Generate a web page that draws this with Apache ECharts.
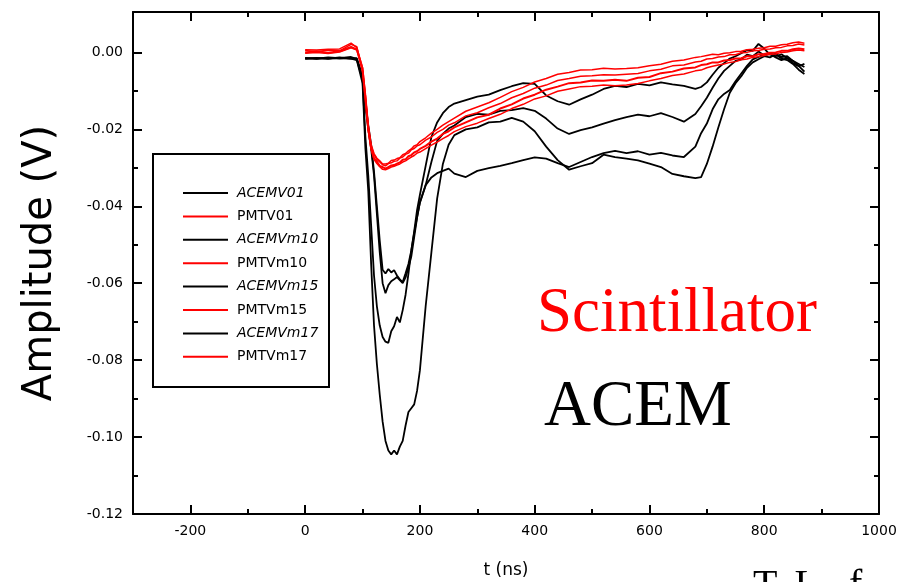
<!DOCTYPE html>
<html><head><meta charset="utf-8">
<script src="https://cdn.jsdelivr.net/npm/echarts@6/dist/echarts.min.js"></script>
<style>html,body{margin:0;padding:0;background:#fff}#c{width:900px;height:582px}</style>
</head><body><div id="c"></div>
<script>
const timeNs = [0,20,40,60,80,90,
  100,105,110,115,120,125,130,135,140,145,150,155,160,165,170,175,180,185,190,195,200,
  210,220,230,240,250,260,
  280,300,320,340,360,380,400,420,440,460,480,500,520,540,560,580,600,620,640,660,680,
  690,700,710,720,730,740,750,760,770,780,790,800,810,820,830,840,850,860,870];

const acemV01 = [-0.0014,-0.0016,-0.0013,-0.0015,-0.0012,-0.0017,
  -0.0060,-0.0130,-0.0190,-0.0240,-0.0310,-0.0400,-0.0490,-0.0565,-0.0575,-0.0563,-0.0572,-0.0566,-0.0580,-0.0590,-0.0597,-0.0574,-0.0550,-0.0515,-0.0465,-0.0410,-0.0370,
  -0.0295,-0.0220,-0.0182,-0.0158,-0.0142,-0.0133,
  -0.0124,-0.0115,-0.0110,-0.0098,-0.0088,-0.0080,-0.0082,-0.0112,-0.0127,-0.0136,-0.0122,-0.0110,-0.0095,-0.0087,-0.0090,-0.0082,-0.0086,-0.0078,-0.0083,-0.0087,-0.0095,
  -0.0090,-0.0078,-0.0058,-0.0040,-0.0028,-0.0016,-0.0010,-0.0002,0.0006,0.0004,0.0022,0.0010,-0.0006,-0.0004,-0.0012,-0.0010,-0.0022,-0.0035,-0.0050];

const acemVm10 = [-0.0016,-0.0014,-0.0017,-0.0014,-0.0016,-0.0015,
  -0.0065,-0.0140,-0.0200,-0.0250,-0.0320,-0.0420,-0.0520,-0.0600,-0.0626,-0.0605,-0.0595,-0.0590,-0.0584,-0.0592,-0.0600,-0.0585,-0.0560,-0.0530,-0.0480,-0.0430,-0.0390,
  -0.0345,-0.0285,-0.0230,-0.0212,-0.0198,-0.0190,
  -0.0168,-0.0160,-0.0162,-0.0152,-0.0150,-0.0145,-0.0152,-0.0172,-0.0198,-0.0212,-0.0202,-0.0195,-0.0185,-0.0176,-0.0168,-0.0162,-0.0166,-0.0158,-0.0168,-0.0180,-0.0160,
  -0.0140,-0.0118,-0.0092,-0.0068,-0.0048,-0.0035,-0.0022,-0.0018,-0.0006,-0.0010,0.0002,-0.0008,-0.0004,-0.0013,-0.0020,-0.0015,-0.0028,-0.0036,-0.0030];

const acemVm15 = [-0.0015,-0.0017,-0.0014,-0.0016,-0.0015,-0.0019,
  -0.0070,-0.0220,-0.0320,-0.0450,-0.0580,-0.0660,-0.0710,-0.0740,-0.0752,-0.0755,-0.0725,-0.0712,-0.0688,-0.0702,-0.0670,-0.0630,-0.0575,-0.0515,-0.0470,-0.0428,-0.0390,
  -0.0345,-0.0325,-0.0314,-0.0308,-0.0302,-0.0315,
  -0.0324,-0.0308,-0.0301,-0.0295,-0.0288,-0.0280,-0.0273,-0.0276,-0.0288,-0.0298,-0.0285,-0.0272,-0.0262,-0.0256,-0.0262,-0.0257,-0.0266,-0.0261,-0.0268,-0.0272,-0.0245,
  -0.0210,-0.0185,-0.0148,-0.0122,-0.0108,-0.0098,-0.0075,-0.0055,-0.0035,-0.0018,-0.0012,-0.0005,-0.0002,-0.0010,-0.0005,-0.0015,-0.0022,-0.0030,-0.0038];

const acemVm17 = [-0.0017,-0.0015,-0.0016,-0.0013,-0.0016,-0.0020,
  -0.0080,-0.0250,-0.0360,-0.0550,-0.0710,-0.0810,-0.0890,-0.0960,-0.1010,-0.1035,-0.1045,-0.1035,-0.1045,-0.1025,-0.1010,-0.0970,-0.0935,-0.0925,-0.0915,-0.0880,-0.0826,
  -0.0660,-0.0520,-0.0380,-0.0290,-0.0240,-0.0215,
  -0.0200,-0.0195,-0.0182,-0.0180,-0.0170,-0.0180,-0.0205,-0.0245,-0.0280,-0.0305,-0.0296,-0.0288,-0.0266,-0.0272,-0.0276,-0.0281,-0.0289,-0.0298,-0.0316,-0.0322,-0.0327,
  -0.0324,-0.0290,-0.0245,-0.0195,-0.0148,-0.0105,-0.0080,-0.0062,-0.0040,-0.0026,-0.0018,-0.0010,-0.0013,-0.0005,-0.0016,-0.0020,-0.0030,-0.0045,-0.0056];

const pmtV01 = [0.0007,0.0006,0.0008,0.0009,0.0024,0.0012,
  -0.0040,-0.0108,-0.0188,-0.0240,-0.0263,-0.0275,-0.0282,-0.0290,-0.0290,-0.0288,-0.0281,-0.0280,-0.0276,-0.0274,-0.0266,-0.0263,-0.0256,-0.0251,-0.0243,-0.0240,-0.0232,
  -0.0222,-0.0210,-0.0200,-0.0189,-0.0180,-0.0171,
  -0.0153,-0.0142,-0.0131,-0.0117,-0.0102,-0.0091,-0.0077,-0.0068,-0.0057,-0.0052,-0.0046,-0.0045,-0.0041,-0.0043,-0.0042,-0.0040,-0.0035,-0.0031,-0.0023,-0.0020,-0.0013,
  -0.0011,-0.0008,-0.0005,-0.0006,-0.0002,-0.0001,0.0002,0.0003,0.0007,0.0008,0.0011,0.0012,0.0016,0.0016,0.0020,0.0021,0.0025,0.0027,0.0024];

const pmtVm10 = [0.0005,0.0002,0.0006,0.0004,0.0021,0.0015,
  -0.0050,-0.0112,-0.0198,-0.0243,-0.0266,-0.0278,-0.0285,-0.0292,-0.0295,-0.0289,-0.0287,-0.0283,-0.0282,-0.0275,-0.0272,-0.0265,-0.0262,-0.0253,-0.0250,-0.0243,-0.0240,
  -0.0228,-0.0220,-0.0208,-0.0200,-0.0189,-0.0183,
  -0.0165,-0.0157,-0.0144,-0.0133,-0.0118,-0.0107,-0.0093,-0.0085,-0.0073,-0.0068,-0.0062,-0.0061,-0.0058,-0.0059,-0.0057,-0.0055,-0.0048,-0.0044,-0.0035,-0.0033,-0.0025,
  -0.0023,-0.0017,-0.0016,-0.0012,-0.0011,-0.0006,-0.0006,-0.0001,0.0000,0.0004,0.0005,0.0008,0.0009,0.0012,0.0013,0.0017,0.0018,0.0022,0.0019];

const pmtVm15 = [0.0000,0.0003,-0.0001,0.0003,0.0014,0.0008,
  -0.0042,-0.0120,-0.0200,-0.0250,-0.0275,-0.0284,-0.0295,-0.0298,-0.0302,-0.0298,-0.0294,-0.0293,-0.0289,-0.0286,-0.0279,-0.0278,-0.0270,-0.0267,-0.0260,-0.0257,-0.0251,
  -0.0243,-0.0232,-0.0224,-0.0212,-0.0205,-0.0195,
  -0.0182,-0.0169,-0.0162,-0.0146,-0.0135,-0.0120,-0.0110,-0.0097,-0.0089,-0.0080,-0.0078,-0.0073,-0.0074,-0.0071,-0.0074,-0.0066,-0.0064,-0.0054,-0.0050,-0.0042,-0.0039,
  -0.0033,-0.0031,-0.0026,-0.0026,-0.0021,-0.0020,-0.0016,-0.0015,-0.0010,-0.0010,-0.0005,-0.0004,-0.0001,0.0000,0.0004,0.0004,0.0008,0.0010,0.0008];

const pmtVm17 = [-0.0002,0.0000,-0.0003,0.0001,0.0012,0.0006,
  -0.0048,-0.0122,-0.0203,-0.0252,-0.0278,-0.0289,-0.0297,-0.0304,-0.0305,-0.0302,-0.0298,-0.0296,-0.0293,-0.0290,-0.0285,-0.0282,-0.0277,-0.0272,-0.0268,-0.0262,-0.0259,
  -0.0250,-0.0241,-0.0233,-0.0224,-0.0216,-0.0206,
  -0.0193,-0.0184,-0.0172,-0.0161,-0.0146,-0.0135,-0.0121,-0.0113,-0.0101,-0.0095,-0.0089,-0.0088,-0.0085,-0.0087,-0.0085,-0.0081,-0.0074,-0.0068,-0.0060,-0.0056,-0.0048,
  -0.0046,-0.0040,-0.0036,-0.0033,-0.0030,-0.0026,-0.0024,-0.0019,-0.0017,-0.0013,-0.0011,-0.0008,-0.0005,-0.0004,0.0000,0.0001,0.0004,0.0006,0.0004];

const seriesNames = ['ACEMV01','PMTV01','ACEMVm10','PMTVm10','ACEMVm15','PMTVm15','ACEMVm17','PMTVm17'];
const seriesValues = [acemV01, pmtV01, acemVm10, pmtVm10, acemVm15, pmtVm15, acemVm17, pmtVm17];

const xMajorTicks = [-200, 0, 200, 400, 600, 800, 1000];
const xMinorTicks = [-100, 100, 300, 500, 700, 900];
const yMajorTicks = [-0.12, -0.10, -0.08, -0.06, -0.04, -0.02, 0.00];
const yMinorTicks = [-0.11, -0.09, -0.07, -0.05, -0.03, -0.01];

const xTitle = 't (ns)';
const yTitle = 'Amplitude (V)';

const FONT = 'DejaVu Sans';
const black = '#000000';
const red = '#ff0000';

function xAxisDef(pos, ticks, len, withLine, withLabels) {
  return {
    type: 'value', position: pos, min: -300, max: 1000,
    axisLine: { show: withLine, onZero: false, lineStyle: { color: black, width: 2 } },
    axisTick: { show: true, inside: true, length: len, customValues: ticks, lineStyle: { color: black, width: 2 } },
    axisLabel: withLabels ? { show: true, customValues: ticks, margin: 10, color: black, fontFamily: FONT, fontSize: 14,
      formatter: v => String(v) } : { show: false },
    splitLine: { show: false }
  };
}
function yAxisDef(pos, ticks, len, withLine, withLabels) {
  return {
    type: 'value', position: pos, min: -0.12, max: 0.0105,
    axisLine: { show: withLine, onZero: false, lineStyle: { color: black, width: 2 } },
    axisTick: { show: true, inside: true, length: len, customValues: ticks, lineStyle: { color: black, width: 2 } },
    axisLabel: withLabels ? { show: true, customValues: ticks, margin: 10, color: black, fontFamily: FONT, fontSize: 14,
      formatter: v => Number(v).toFixed(2) } : { show: false },
    splitLine: { show: false }
  };
}

const xAxes = [
  xAxisDef('bottom', xMajorTicks, 9, true, true),
  xAxisDef('bottom', xMinorTicks, 5, false, false),
  xAxisDef('top', xMajorTicks, 9, true, false),
  xAxisDef('top', xMinorTicks, 5, false, false)
];
xAxes[0].name = xTitle;
xAxes[0].nameLocation = 'middle';
xAxes[0].nameGap = 48;
xAxes[0].nameTextStyle = { fontFamily: FONT, fontSize: 17, color: black };

const yAxes = [
  yAxisDef('left', yMajorTicks, 9, true, true),
  yAxisDef('left', yMinorTicks, 5, false, false),
  yAxisDef('right', yMajorTicks, 9, true, false),
  yAxisDef('right', yMinorTicks, 5, false, false)
];
yAxes[0].name = yTitle;
yAxes[0].nameLocation = 'middle';
yAxes[0].nameGap = 72;
yAxes[0].nameTextStyle = { fontFamily: FONT, fontSize: 40, color: black };

const series = seriesNames.map((name, k) => {
  const isPmt = name.startsWith('PMT');
  return {
    name: name, type: 'line', xAxisIndex: 0, yAxisIndex: 0,
    symbol: 'none', showSymbol: false, animation: false,
    z: isPmt ? 4 : 3,
    lineStyle: { color: isPmt ? red : black, width: isPmt ? (name === 'PMTVm15' ? 2 : 1.5) : 1.8 },
    itemStyle: { color: isPmt ? red : black },
    data: timeNs.map((t, i) => [t, seriesValues[k][i]])
  };
});

const chart = echarts.init(document.getElementById('c'), null, { renderer: 'canvas' });
chart.setOption({
  animation: false,
  backgroundColor: '#ffffff',
  grid: { left: 133, right: 21, top: 12, bottom: 68, containLabel: false, outerBoundsMode: 'none' },
  xAxis: xAxes,
  yAxis: yAxes,
  legend: {
    data: seriesNames, orient: 'vertical', left: 177, top: 181,
    itemWidth: 45, itemHeight: 14, itemGap: 9.4, selectedMode: false,
    itemStyle: { opacity: 0 },
    formatter: n => (n.startsWith('ACEM') ? '{i|' : '{n|') + n + '}',
    textStyle: { rich: {
      i: { fontFamily: FONT, fontStyle: 'italic', fontSize: 14, color: black, padding: [0, 0, 0, 4] },
      n: { fontFamily: FONT, fontStyle: 'normal', fontSize: 14, color: black, padding: [0, 0, 0, 4] }
    } }
  },
  graphic: [
    { type: 'rect', shape: { x: 153, y: 154, width: 176, height: 233 }, style: { fill: 'none', stroke: black, lineWidth: 2 }, z: 50 },
    { type: 'text', x: 537, y: 314, style: { text: 'Scintillator', font: '63px "Liberation Serif"', fill: red, align: 'left', verticalAlign: 'middle' }, z: 50 },
    { type: 'text', x: 544, y: 408, style: { text: 'ACEM', font: '65px "Liberation Serif"', fill: black, align: 'left', verticalAlign: 'middle' }, z: 50 },
    { type: 'text', x: 753, y: 586, style: { text: 'T. L.  f', font: '40px "Liberation Serif"', fill: black, align: 'left', verticalAlign: 'middle' }, z: 50 }
  ],
  series: series
});
</script>
</body></html>
